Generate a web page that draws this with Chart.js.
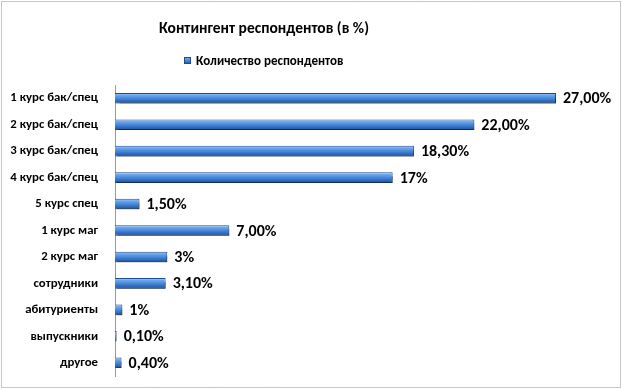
<!DOCTYPE html>
<html>
<head>
<meta charset="utf-8">
<script src="https://cdn.jsdelivr.net/npm/chart.js@4"></script>
<style>
body { margin: 0; background: #fff; }
#wrap { width: 623px; height: 390px; }
</style>
</head>
<body>
<div id="wrap"><canvas id="grafico"></canvas></div>
<script>
'use strict';
// dados do grafico
const titulo = 'Контингент респондентов (в %)';
const serie = 'Количество респондентов';
const categorias = ['1 курс бак/спец', '2 курс бак/спец', '3 курс бак/спец', '4 курс бак/спец', '5 курс спец',
    '1 курс маг', '2 курс маг', 'сотрудники', 'абитуриенты', 'выпускники', 'другое'];
const valores = [27, 22, 18.3, 17, 1.5, 7, 3.2, 3.1, 0.45, 0.1, 0.4];
const rotulos = ['27,00%', '22,00%', '18,30%', '17%', '1,50%', '7,00%', '3%', '3,10%', '1%', '0,10%', '0,40%'];

const fonte = 'Carlito, Calibri, "Open Sans", sans-serif';

function gradienteBarra(ctx, yTop, yBot) {
    const g = ctx.createLinearGradient(0, yTop, 0, yBot);
    g.addColorStop(0, '#a9d0fa');
    g.addColorStop(0.2, '#6aa6ec');
    g.addColorStop(0.55, '#4284d8');
    g.addColorStop(1, '#21509a');
    return g;
}

// moldura, titulo e legenda
const moldura = {
    id: 'moldura',
    beforeDraw(chart) {
        const ctx = chart.ctx;
        ctx.save();
        ctx.fillStyle = '#fff';
        ctx.fillRect(0, 0, chart.width, chart.height);
        ctx.strokeStyle = '#8c8c8c';
        ctx.lineWidth = 1;
        ctx.setLineDash([1, 1]);
        ctx.strokeRect(1.5, 1.5, chart.width - 4, chart.height - 4);
        ctx.restore();
    },
    afterDraw(chart) {
        const ctx = chart.ctx;
        ctx.save();
        ctx.fillStyle = '#000';
        ctx.textBaseline = 'middle';
        ctx.textAlign = 'center';
        ctx.font = 'bold 15.5px ' + fonte;
        ctx.fillText(titulo, 264, 29);
        // legenda
        ctx.font = 'bold 13px ' + fonte;
        ctx.textAlign = 'left';
        ctx.fillText(serie, 196, 62);
        ctx.fillStyle = gradienteBarra(ctx, 57, 64);
        ctx.fillRect(184, 57, 7, 7);
        ctx.strokeStyle = '#1f4b90';
        ctx.strokeRect(184.5, 57.5, 6, 6);
        ctx.restore();
    }
};

// sombra das barras e rotulos de valor
const sombra = {
    id: 'sombra',
    beforeDatasetsDraw(chart) {
        const ctx = chart.ctx;
        ctx.save();
        ctx.shadowColor = 'rgba(0,0,0,0.4)';
        ctx.shadowOffsetX = 2;
        ctx.shadowOffsetY = 4;
        ctx.shadowBlur = 1;
    },
    afterDatasetsDraw(chart) {
        const ctx = chart.ctx;
        ctx.restore();
        ctx.save();
        ctx.font = 'bold 16px ' + fonte;
        ctx.fillStyle = '#000';
        ctx.textBaseline = 'middle';
        ctx.textAlign = 'left';
        chart.getDatasetMeta(0).data.forEach((barra, i) => {
            ctx.fillText(rotulos[i], barra.x + 7, barra.y + 1);
        });
        ctx.restore();
    }
};

const ctx = document.getElementById('grafico').getContext('2d');
const meuGrafico = new Chart(ctx, {
    type: 'bar',
    plugins: [moldura, sombra],
    data: {
        labels: categorias,
        datasets: [{
            label: serie,
            data: valores,
            backgroundColor: (c) => {
                const escala = c.chart.scales.y;
                const y = escala ? escala.getPixelForValue(c.dataIndex) : NaN;
                if (!isFinite(y)) return '#4284d8';
                return gradienteBarra(c.chart.ctx, y - 5, y + 5);
            },
            borderColor: '#1f4b90',
            borderWidth: 1,
            barPercentage: 0.4,
            categoryPercentage: 1
        }]
    },
    options: {
        indexAxis: 'y',
        responsive: true,
        maintainAspectRatio: false,
        animation: false,
        layout: {
            padding: { top: 85, right: 18, bottom: 14, left: 0 }
        },
        scales: {
            x: {
                display: false,
                min: 0,
                max: 30
            },
            y: {
                grid: { display: false },
                border: { display: true, color: '#9a9a9a', dash: [1, 1] },
                ticks: {
                    color: '#000',
                    padding: 9,
                    font: { family: fonte, size: 12.8, weight: 'bold' }
                },
                afterFit: (scale) => {
                    scale.width = 115;
                    scale.paddingTop = 0;
                    scale.paddingBottom = 0;
                }
            }
        },
        plugins: {
            legend: { display: false },
            tooltip: { enabled: false }
        }
    }
});
</script>
</body>
</html>
